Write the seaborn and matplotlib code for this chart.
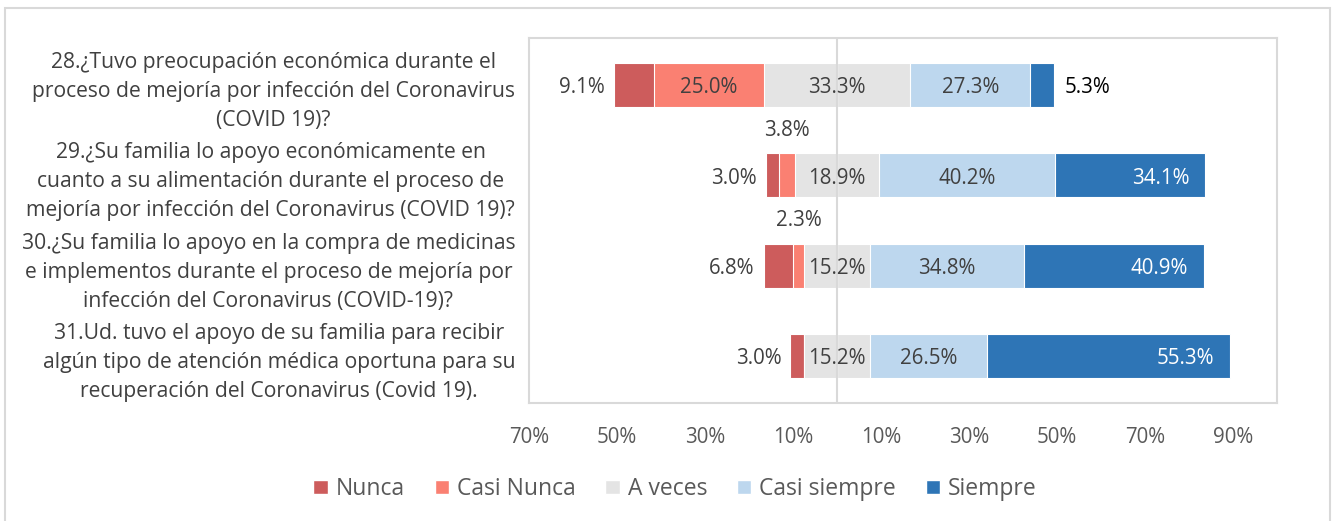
import matplotlib
matplotlib.use("Agg")
import numpy as np
import pandas as pd
import matplotlib.pyplot as plt
from matplotlib.patches import Patch, Rectangle
import seaborn as sns

# datos de la encuesta (porcentajes)
preguntas = [
    "28.¿Tuvo preocupación económica durante el\nproceso de mejoría por infección del Coronavirus\n(COVID 19)?",
    "29.¿Su familia lo apoyo económicamente en\ncuanto a su alimentación durante el proceso de\nmejoría por infección del Coronavirus (COVID 19)?",
    "30.¿Su familia lo apoyo en la compra de medicinas\ne implementos durante el proceso de mejoría por\ninfección del Coronavirus (COVID-19)?",
    "31.Ud. tuvo el apoyo de su familia para recibir\nalgún tipo de atención médica oportuna para su\nrecuperación del Coronavirus (Covid 19).",
]
niveles = ["Nunca", "Casi Nunca", "A veces", "Casi siempre", "Siempre"]
nunca = [9.1, 3.0, 6.8, 3.0]
casi_nunca = [25.0, 3.8, 2.3, 0.0]
a_veces = [33.3, 18.9, 15.2, 15.2]
casi_siempre = [27.3, 40.2, 34.8, 26.5]
siempre = [5.3, 34.1, 40.9, 55.3]
xticks = [-70, -50, -30, -10, 10, 30, 50, 70, 90]

colores = ["#CD5C5C", "#FA8072", "#E4E4E4", "#BDD7EE", "#2E75B6"]
gris_txt = "#404040"

sns.set_style("white")
plt.rcParams["font.family"] = ["Open Sans", "DejaVu Sans"]

df = pd.DataFrame({"pregunta": preguntas, "Nunca": nunca, "Casi Nunca": casi_nunca,
                   "A veces": a_veces, "Casi siempre": casi_siempre, "Siempre": siempre})
vals = df[niveles].to_numpy()
inicio = -(vals[:, 0] + vals[:, 1] + vals[:, 2] / 2)
der = inicio[:, None] + vals.cumsum(axis=1)
izq = der - vals

fig, ax = plt.subplots(figsize=(13.38, 5.21), dpi=100)
fig.subplots_adjust(left=0.3954, right=0.9544, top=0.927, bottom=0.2265)

# barras divergentes: lado derecho y lado izquierdo, sobrepuestas desde cero
for k in [4, 3, 2]:
    df["_x"] = der[:, k]
    sns.barplot(data=df, x="_x", y="pregunta", orient="h", color=colores[k], saturation=1,
                width=0.49, errorbar=None, edgecolor="white", linewidth=0.8, ax=ax)
for k in [0, 1, 2]:
    df["_x"] = izq[:, k]
    sns.barplot(data=df, x="_x", y="pregunta", orient="h", color=colores[k], saturation=1,
                width=0.49, errorbar=None, edgecolor="white", linewidth=0.8, ax=ax)

ax.axvline(0, color="#D9D9D9", lw=1.5, zorder=2.5)
ax.set_xlim(-70, 100)
ax.set_ylim(3.52, -0.52)
ax.set(xlabel="", ylabel="")

fs = 14.8
for i in range(len(preguntas)):
    # Nunca
    ax.text(izq[i, 0] - 2.0, i + 0.03, f"{vals[i, 0]:.1f}%", ha="right", va="center", fontsize=fs, color=gris_txt, zorder=3)
    # Casi Nunca
    cx = (izq[i, 1] + der[i, 1]) / 2
    if vals[i, 1] >= 10:
        ax.text(cx, i + 0.03, f"{vals[i, 1]:.1f}%", ha="center", va="center", fontsize=fs, color=gris_txt, zorder=3)
    elif vals[i, 1] > 0:
        ax.text(cx, i - 0.5, f"{vals[i, 1]:.1f}%", ha="center", va="center", fontsize=fs, color=gris_txt, zorder=3)
    # A veces, Casi siempre
    for k in [2, 3]:
        cx = (izq[i, k] + der[i, k]) / 2
        ax.text(cx, i + 0.03, f"{vals[i, k]:.1f}%", ha="center", va="center", fontsize=fs, color=gris_txt, zorder=3)
    # Siempre
    if vals[i, 4] >= 10:
        ax.text(der[i, 4] - 3.6, i + 0.03, f"{vals[i, 4]:.1f}%", ha="right", va="center", fontsize=fs, color="white", zorder=3)
    else:
        ax.text(der[i, 4] + 2.5, i + 0.03, f"{vals[i, 4]:.1f}%", ha="left", va="center", fontsize=fs, color="black", zorder=3)

ax.set_xticks(xticks)
ax.set_xticklabels([f"{abs(t)}%" for t in xticks])
ax.tick_params(axis="x", length=0, pad=17, labelsize=fs, labelcolor="#595959")
ax.tick_params(axis="y", length=0, pad=10, labelsize=15.2, labelcolor=gris_txt)
for t in ax.get_yticklabels():
    t.set_multialignment("center")
    t.set_linespacing(1.5)

for s in ax.spines.values():
    s.set_visible(True)
    s.set_color("#D9D9D9")
    s.set_linewidth(1.5)

handles = [Patch(facecolor=c, label=l) for c, l in zip(colores, niveles)]
fig.legend(handles=handles, loc="center", bbox_to_anchor=(0.5045, 0.0614), ncol=5, frameon=False,
           fontsize=16.5, handlelength=0.62, handleheight=0.62, handletextpad=0.35, columnspacing=1.3,
           labelcolor="#595959")

fig.patches.append(Rectangle((5 / 1338, -0.05), 1325 / 1338, 1 - 8 / 521 + 0.05, transform=fig.transFigure,
                             fill=False, edgecolor="#D9D9D9", lw=1.5))

fig.savefig("out.png", dpi=100)
